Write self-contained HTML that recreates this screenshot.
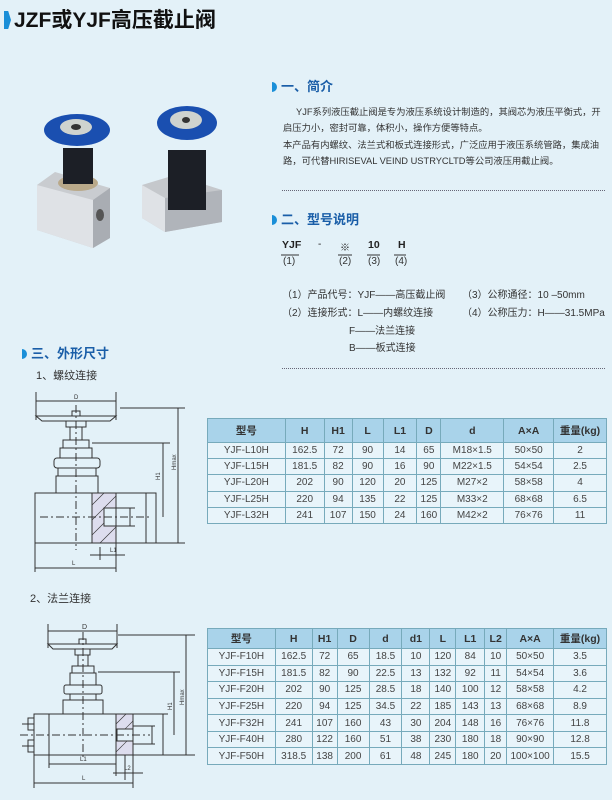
<!DOCTYPE html>
<html><head><meta charset="utf-8">
<style>
body{margin:0;width:612px;height:800px;background:#e3f1f8;font-family:"Liberation Sans","Noto Sans CJK SC",sans-serif;position:relative;overflow:hidden;color:#222}
.a{position:absolute;white-space:nowrap}
.h{color:#1a5ea8;font-weight:bold;font-size:13px}
.h:before{content:"";display:inline-block;width:5px;height:10px;background:#1a8fd8;border-radius:0 5px 5px 0;margin-right:4px;vertical-align:-1px}
.t{font-size:9.3px;color:#333}
.u{font-size:10px;color:#333}
table{position:absolute;border-collapse:collapse;font-size:10px;color:#444;border:1.5px solid #333}
td{border:1px solid #7ab;text-align:center;padding:0;background:#e8f4fa}
tr:first-child td{background:#a9d3ea;color:#333;font-weight:bold;font-size:10.5px}
.dot{position:absolute;left:282px;width:323px;border-top:1px dotted #667}
</style></head><body>
<div class="a" style="left:4px;top:4px;font-size:21px;font-weight:bold;color:#111"><span style="display:inline-block;width:7px;height:18px;background:#1a8fd8;clip-path:polygon(0 0,60% 0,100% 50%,60% 100%,0 100%);vertical-align:-2px;margin-right:3px"></span>JZF或YJF高压截止阀</div>

<svg class="a" style="left:0;top:0" width="240" height="290">
<polygon points="37,185 55,172 110,188 110,238 93,248 37,230" fill="#c9ccd0"/>
<polygon points="37,185 93,200 93,248 37,230" fill="#dfe2e6"/>
<polygon points="93,200 110,188 110,238 93,248" fill="#a9adb3"/>
<ellipse cx="100" cy="215" rx="4" ry="6" fill="#555"/>
<ellipse cx="78" cy="183" rx="20" ry="8" fill="#b9a98a"/>
<rect x="63" y="148" width="30" height="36" fill="#1c1f26"/>
<ellipse cx="77" cy="130" rx="33" ry="16" fill="#1a4fb0"/>
<ellipse cx="76" cy="127" rx="16" ry="8" fill="#cfd3cf"/>
<ellipse cx="76" cy="127" rx="5" ry="3" fill="#333"/>
<polygon points="142,185 175,175 222,190 222,222 165,232 142,218" fill="#c5c8cc"/>
<polygon points="142,185 165,198 165,232 142,218" fill="#dfe2e6"/>
<polygon points="165,198 222,190 222,222 165,232" fill="#b0b4ba"/>
<rect x="168" y="150" width="38" height="60" fill="#1c1f26"/>
<ellipse cx="187" cy="123" rx="30" ry="17" fill="#1a4fb0"/>
<ellipse cx="186" cy="120" rx="16" ry="9" fill="#cfd3cf"/>
<ellipse cx="186" cy="120" rx="4" ry="3" fill="#333"/>
</svg>

<div class="a h" style="left:272px;top:76px">一、简介</div>
<div class="a t" style="left:296px;top:104px">YJF系列液压截止阀是专为液压系统设计制造的，其阀芯为液压平衡式，开</div>
<div class="a t" style="left:283px;top:120px">启压力小，密封可靠，体积小，操作方便等特点。</div>
<div class="a t" style="left:283px;top:137px">本产品有内螺纹、法兰式和板式连接形式，广泛应用于液压系统管路，集成油</div>
<div class="a t" style="left:283px;top:153px">路，可代替HIRISEVAL VEIND USTRYCLTD等公司液压用截止阀。</div>
<div class="dot" style="top:190px"></div>
<div class="a h" style="left:272px;top:209px">二、型号说明</div>
<div class="a" style="left:282px;top:239px;font-size:10.5px;font-weight:bold">YJF</div>
<div class="a" style="left:318px;top:239px;font-size:10px">-</div>
<div class="a" style="left:340px;top:239px;font-size:10px">※</div>
<div class="a" style="left:368px;top:239px;font-size:10.5px;font-weight:bold">10</div>
<div class="a" style="left:398px;top:239px;font-size:10.5px;font-weight:bold">H</div>
<svg class="a" style="left:280px;top:254px" width="130" height="4"><g stroke="#333"><line x1="1" y1="1" x2="19" y2="1"/><line x1="58" y1="1" x2="72" y2="1"/><line x1="87" y1="1" x2="100" y2="1"/><line x1="114" y1="1" x2="126" y2="1"/></g></svg>
<div class="a u" style="left:283px;top:256px">(1)</div><div class="a u" style="left:339px;top:256px">(2)</div><div class="a u" style="left:368px;top:256px">(3)</div><div class="a u" style="left:395px;top:256px">(4)</div>
<div class="a u" style="left:282px;top:286px">（1）产品代号：YJF——高压截止阀</div>
<div class="a u" style="left:282px;top:304px">（2）连接形式：L——内螺纹连接</div>
<div class="a u" style="left:349px;top:322px">F——法兰连接</div>
<div class="a u" style="left:349px;top:339px">B——板式连接</div>
<div class="a u" style="left:462px;top:286px">（3）公称通径：10 –50mm</div>
<div class="a u" style="left:462px;top:304px">（4）公称压力：H——31.5MPa</div>
<div class="dot" style="top:368px"></div>

<div class="a h" style="left:22px;top:343px">三、外形尺寸</div>
<div class="a t" style="left:36px;top:367px;font-size:11px">1、螺纹连接</div>
<div class="a t" style="left:30px;top:590px;font-size:11px">2、法兰连接</div>

<svg class="a" style="left:0;top:380px" width="210" height="200" fill="none" stroke="#333" stroke-width="1">
<line x1="36" y1="21" x2="116" y2="21"/><line x1="36" y1="12" x2="36" y2="40"/><line x1="116" y1="12" x2="116" y2="40"/>
<text x="74" y="19" font-size="6" fill="#333" stroke="none">D</text>
<path d="M36,36 L116,36 L110,41 L42,41 Z" fill="#e3f1f8"/>
<rect x="72" y="31" width="8" height="5"/>
<rect x="66" y="41" width="20" height="6"/>
<line x1="70" y1="47" x2="70" y2="60"/><line x1="82" y1="47" x2="82" y2="60"/>
<rect x="63" y="60" width="26" height="8"/>
<rect x="60" y="68" width="32" height="10"/>
<rect x="54" y="78" width="46" height="10" rx="3"/>
<rect x="58" y="88" width="38" height="8"/>
<rect x="56" y="96" width="42" height="17"/>
<rect x="35" y="113" width="121" height="50"/>
<rect x="92" y="113" width="24" height="50" fill="#dde" />
<g stroke-width="0.6"><line x1="92" y1="125" x2="104" y2="113"/><line x1="92" y1="140" x2="116" y2="116"/><line x1="92" y1="155" x2="116" y2="131"/><line x1="100" y1="163" x2="116" y2="147"/></g>
<rect x="104" y="128" width="12" height="18" fill="#e3f1f8"/>
<line x1="40" y1="137" x2="150" y2="137" stroke-dasharray="8,3,2,3"/>
<line x1="76" y1="25" x2="76" y2="170" stroke-dasharray="8,3,2,3"/>
<line x1="120" y1="28" x2="185" y2="28"/><line x1="178" y1="28" x2="178" y2="163"/>
<line x1="92" y1="63" x2="170" y2="63"/><line x1="163" y1="63" x2="163" y2="137"/>
<line x1="156" y1="163" x2="185" y2="163"/>
<line x1="116" y1="128" x2="135" y2="128"/><line x1="116" y1="146" x2="135" y2="146"/><line x1="130" y1="128" x2="130" y2="146"/>
<line x1="146" y1="113" x2="146" y2="163"/>
<line x1="35" y1="163" x2="35" y2="192"/><line x1="116" y1="163" x2="116" y2="192"/><line x1="35" y1="188" x2="116" y2="188"/>
<line x1="100" y1="167" x2="100" y2="180"/><line x1="90" y1="175" x2="125" y2="175"/>
<text x="72" y="185" font-size="6" fill="#333" stroke="none">L</text>
<text x="110" y="172" font-size="6" fill="#333" stroke="none">L1</text>
<text x="160" y="100" font-size="6" fill="#333" stroke="none" transform="rotate(-90 160 100)">H1</text>
<text x="176" y="90" font-size="6" fill="#333" stroke="none" transform="rotate(-90 176 90)">Hmax</text>
</svg>

<svg class="a" style="left:0;top:620px" width="210" height="180" fill="none" stroke="#333" stroke-width="1">
<line x1="48" y1="11" x2="117" y2="11"/><line x1="48" y1="4" x2="48" y2="28"/><line x1="117" y1="4" x2="117" y2="28"/>
<text x="82" y="9" font-size="7" fill="#333" stroke="none">D</text>
<path d="M48,24 L117,24 L112,29 L53,29 Z" fill="#e3f1f8"/>
<rect x="79" y="19" width="7" height="5"/>
<rect x="75" y="29" width="15" height="6"/>
<line x1="78" y1="35" x2="78" y2="46"/><line x1="88" y1="35" x2="88" y2="46"/>
<rect x="72" y="46" width="22" height="7"/>
<rect x="70" y="53" width="26" height="12"/>
<rect x="64" y="65" width="38" height="9" rx="2"/>
<rect x="70" y="74" width="26" height="6"/>
<rect x="63" y="80" width="40" height="14"/>
<rect x="34" y="94" width="99" height="41"/>
<rect x="116" y="94" width="17" height="41" fill="#dde"/>
<g stroke-width="0.6"><line x1="116" y1="104" x2="126" y2="94"/><line x1="116" y1="118" x2="133" y2="101"/><line x1="116" y1="132" x2="133" y2="115"/></g>
<rect x="117" y="109" width="16" height="12" fill="#e3f1f8"/>
<rect x="28" y="98" width="6" height="12"/><rect x="28" y="120" width="6" height="12"/>
<line x1="22" y1="104" x2="34" y2="104"/><line x1="22" y1="126" x2="34" y2="126"/>
<line x1="20" y1="115" x2="150" y2="115" stroke-dasharray="8,3,2,3"/>
<line x1="83" y1="12" x2="83" y2="140" stroke-dasharray="8,3,2,3"/>
<line x1="118" y1="15" x2="195" y2="15"/><line x1="186" y1="15" x2="186" y2="135"/>
<line x1="98" y1="52" x2="180" y2="52"/><line x1="174" y1="52" x2="174" y2="115"/>
<line x1="133" y1="135" x2="195" y2="135"/>
<line x1="133" y1="94" x2="168" y2="94"/><line x1="163" y1="94" x2="163" y2="135"/>
<line x1="133" y1="106" x2="155" y2="106"/><line x1="133" y1="124" x2="155" y2="124"/><line x1="152" y1="106" x2="152" y2="124"/>
<line x1="49" y1="94" x2="49" y2="148"/><line x1="116" y1="135" x2="116" y2="156"/><line x1="49" y1="144" x2="116" y2="144"/>
<line x1="125" y1="135" x2="125" y2="160"/><line x1="113" y1="153" x2="143" y2="153"/>
<line x1="34" y1="135" x2="34" y2="168"/><line x1="133" y1="135" x2="133" y2="168"/><line x1="34" y1="163" x2="133" y2="163"/>
<text x="80" y="141" font-size="6" fill="#333" stroke="none">L1</text>
<text x="124" y="150" font-size="6" fill="#333" stroke="none">L2</text>
<text x="82" y="160" font-size="6" fill="#333" stroke="none">L</text>
<text x="172" y="90" font-size="6" fill="#333" stroke="none" transform="rotate(-90 172 90)">H1</text>
<text x="184" y="85" font-size="6" fill="#333" stroke="none" transform="rotate(-90 184 85)">Hmax</text>
</svg>

<table style="left:207px;top:418px;width:400px;height:106px">
<colgroup><col style="width:78px"><col style="width:39px"><col style="width:28px"><col style="width:31px"><col style="width:34px"><col style="width:24px"><col style="width:63px"><col style="width:50px"><col style="width:53px"></colgroup>
<tr style="height:24px"><td>型号</td><td>H</td><td>H1</td><td>L</td><td>L1</td><td>D</td><td>d</td><td>A×A</td><td>重量(kg)</td></tr>
<tr><td>YJF-L10H</td><td>162.5</td><td>72</td><td>90</td><td>14</td><td>65</td><td>M18×1.5</td><td>50×50</td><td>2</td></tr>
<tr><td>YJF-L15H</td><td>181.5</td><td>82</td><td>90</td><td>16</td><td>90</td><td>M22×1.5</td><td>54×54</td><td>2.5</td></tr>
<tr><td>YJF-L20H</td><td>202</td><td>90</td><td>120</td><td>20</td><td>125</td><td>M27×2</td><td>58×58</td><td>4</td></tr>
<tr><td>YJF-L25H</td><td>220</td><td>94</td><td>135</td><td>22</td><td>125</td><td>M33×2</td><td>68×68</td><td>6.5</td></tr>
<tr><td>YJF-L32H</td><td>241</td><td>107</td><td>150</td><td>24</td><td>160</td><td>M42×2</td><td>76×76</td><td>11</td></tr>
</table>

<table style="left:207px;top:628px;width:400px;height:137px">
<colgroup><col style="width:68px"><col style="width:37px"><col style="width:25px"><col style="width:32px"><col style="width:33px"><col style="width:28px"><col style="width:26px"><col style="width:29px"><col style="width:22px"><col style="width:47px"><col style="width:53px"></colgroup>
<tr style="height:20px"><td>型号</td><td>H</td><td>H1</td><td>D</td><td>d</td><td>d1</td><td>L</td><td>L1</td><td>L2</td><td>A×A</td><td>重量(kg)</td></tr>
<tr><td>YJF-F10H</td><td>162.5</td><td>72</td><td>65</td><td>18.5</td><td>10</td><td>120</td><td>84</td><td>10</td><td>50×50</td><td>3.5</td></tr>
<tr><td>YJF-F15H</td><td>181.5</td><td>82</td><td>90</td><td>22.5</td><td>13</td><td>132</td><td>92</td><td>11</td><td>54×54</td><td>3.6</td></tr>
<tr><td>YJF-F20H</td><td>202</td><td>90</td><td>125</td><td>28.5</td><td>18</td><td>140</td><td>100</td><td>12</td><td>58×58</td><td>4.2</td></tr>
<tr><td>YJF-F25H</td><td>220</td><td>94</td><td>125</td><td>34.5</td><td>22</td><td>185</td><td>143</td><td>13</td><td>68×68</td><td>8.9</td></tr>
<tr><td>YJF-F32H</td><td>241</td><td>107</td><td>160</td><td>43</td><td>30</td><td>204</td><td>148</td><td>16</td><td>76×76</td><td>11.8</td></tr>
<tr><td>YJF-F40H</td><td>280</td><td>122</td><td>160</td><td>51</td><td>38</td><td>230</td><td>180</td><td>18</td><td>90×90</td><td>12.8</td></tr>
<tr><td>YJF-F50H</td><td>318.5</td><td>138</td><td>200</td><td>61</td><td>48</td><td>245</td><td>180</td><td>20</td><td>100×100</td><td>15.5</td></tr>
</table>
</body></html>
